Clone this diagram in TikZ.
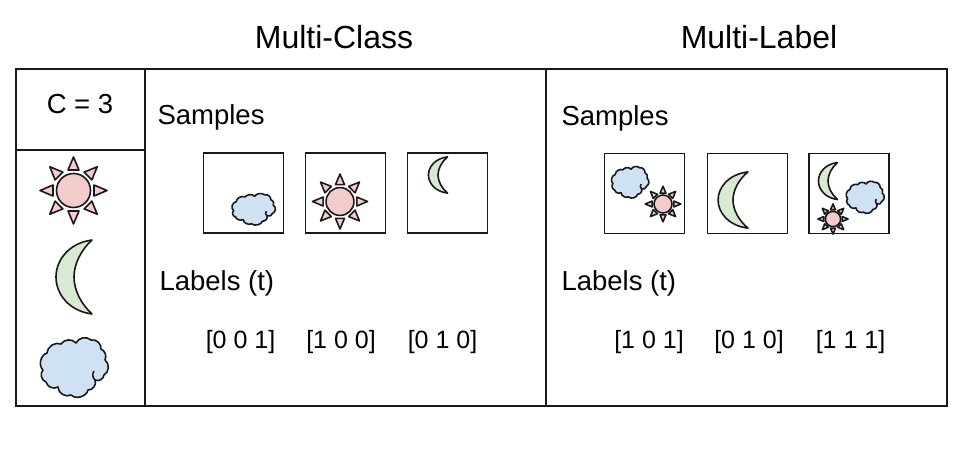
\documentclass[tikz,border=0pt]{standalone}
\usepackage{fontspec}
\setmainfont{Liberation Sans}
\definecolor{sunfill}{HTML}{F4CCCC}
\definecolor{moonfill}{HTML}{D9EAD3}
\definecolor{cloudfill}{HTML}{CFE2F3}
\tikzset{
  icon/.style={draw=black!90, line width=1.6pt, line join=round},
  frame/.style={draw=black!90, line width=1.4pt},
  samplebox/.style={draw=black!90, line width=1.5pt, minimum size=80pt, inner sep=0pt},
  title/.style={font=\fontsize{32}{36}\selectfont},
  txt/.style={font=\fontsize{27.5}{32}\selectfont},
  vec/.style={font=\fontsize{25}{30}\selectfont},
  pics/sunpic/.style={code={
    \foreach \a in {0,45,...,315}
      \draw[icon, fill=sunfill, rotate=\a] (20.5,-5.5) -- (20.5,5.5) -- (33.5,0) -- cycle;
    \draw[icon, fill=sunfill] (0,0) circle (17);
  }},
  pics/moonpic/.style={code={
    \draw[icon, fill=moonfill] (18,-37) .. controls (-5,-34) and (-18,-17) .. (-18,0)
      .. controls (-18,17) and (-5,34) .. (18,37)
      .. controls (7,27) and (0,13) .. (0,0)
      .. controls (0,-13) and (7,-27) .. (18,-37) -- cycle;
  }},
  pics/cloudpic/.style={code={
    \draw[icon, fill=cloudfill] (-27,-14) to[bend left=55] (-13,-23) to[bend left=55] (2,-24)
      to[bend left=55] (17,-27) to[bend left=55] (27,-18) to[bend left=45] (31,-7)
      to[bend left=60] (30,8) to[bend left=55] (21,13) to[bend left=60] (14,23)
      to[bend left=60] (-3,28) to[bend left=60] (-16,20) to[bend left=55] (-28,15)
      to[bend left=60] (-31,3) to[bend left=60] (-27,-14) -- cycle;
    \draw[icon] (21,13) to[bend left=40] (20,4);
  }}
}
\begin{document}
\begin{tikzpicture}[x=1pt, y=-1pt]
\useasboundingbox (0,0) rectangle (964,448);
% outer table
\draw[frame] (16,69) rectangle (947,406);
\draw[frame] (145,69) -- (145,406);
\draw[frame] (546,69) -- (546,406);
\draw[frame] (16,150) -- (145,150);

\node[title] (mc) at (334,37) {Multi-Class};
\node[title] (ml) at (759,37) {Multi-Label};
\node[txt] (c) at (80,104.5) {C = 3};

% classes
\pic (sun0) at (73.5,190.5) {sunpic};
\pic (moon0) at (74,277) {moonpic};
\pic (cloud0) at (74,367) {cloudpic};

% multi-class
\node[txt, anchor=west] (mcs) at (154,117) {Samples};
\node[samplebox] (a1) at (243.5,193) {};
\node[samplebox] (a2) at (345.5,193) {};
\node[samplebox] (a3) at (447.5,193) {};
\pic[xscale=0.64, yscale=0.53] (cloud1) at (253.5,209) {cloudpic};
\pic[scale=0.82] (sun1) at (340,201.5) {sunpic};
\pic[xscale=0.53, yscale=0.49] (moon1) at (438,175) {moonpic};
\node[txt, anchor=west] (mcl) at (156,283) {Labels (t)};
\node[vec] (t1) at (240.5,342) {[0 0 1]};
\node[vec] (t2) at (341,342) {[1 0 0]};
\node[vec] (t3) at (442.5,342) {[0 1 0]};

% multi-label
\node[txt, anchor=west] (mls) at (558,118) {Samples};
\node[samplebox] (b1) at (644.5,193.5) {};
\node[samplebox] (b2) at (747.5,193.5) {};
\node[samplebox] (b3) at (849,193.5) {};
\pic[xscale=0.55, yscale=0.53] (cloud2) at (630,182) {cloudpic};
\pic[scale=0.53] (sun2) at (663,204) {sunpic};
\pic[xscale=0.83, yscale=0.76] (moon2) at (733,200) {moonpic};
\pic[xscale=0.53, yscale=0.5] (moon3) at (828,181) {moonpic};
\pic[xscale=0.56, yscale=0.54] (cloud3) at (865,197) {cloudpic};
\pic[scale=0.45] (sun3) at (833,219) {sunpic};
\node[txt, anchor=west] (mll) at (558,283) {Labels (t)};
\node[vec] (u1) at (649,342) {[1 0 1]};
\node[vec] (u2) at (749,342) {[0 1 0]};
\node[vec] (u3) at (850.5,342) {[1 1 1]};
\end{tikzpicture}
\end{document}
